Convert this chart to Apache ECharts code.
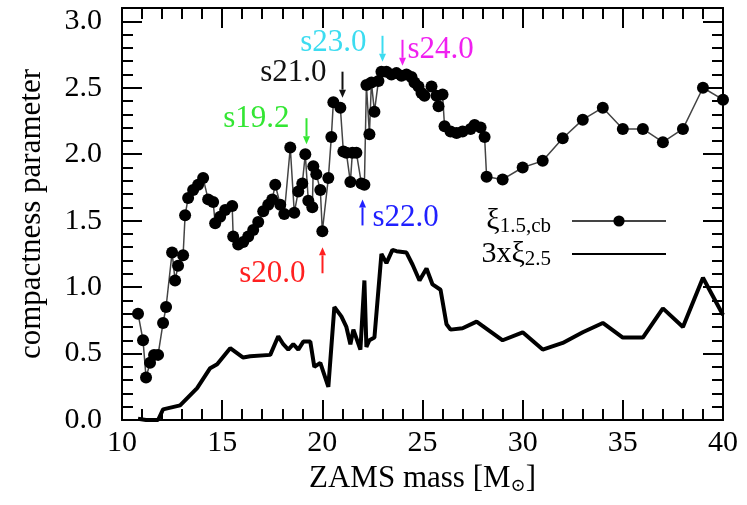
<!DOCTYPE html>
<html>
<head>
<meta charset="utf-8">
<title>compactness parameter</title>
<script src="https://cdn.jsdelivr.net/npm/echarts@6/dist/echarts.min.js"></script>
<style>
  html, body { margin: 0; padding: 0; background: #fff; }
  #chart { width: 747px; height: 505px; }
</style>
</head>
<body>
<div id="chart"></div>
<script>
// xi_1.5,cb : ZAMS mass / value
const xi15Mass = [10.8, 11.05, 11.2, 11.4, 11.6, 11.8, 12.05, 12.2, 12.5, 12.65, 12.8, 13.05, 13.15, 13.3, 13.55, 13.8,
  14.05, 14.3, 14.55, 14.65, 14.9, 15.15, 15.5, 15.55, 15.8, 16.05, 16.3, 16.55, 16.8, 17.05, 17.3, 17.5, 17.65,
  17.9, 18.1, 18.4, 18.6, 18.8, 19.0, 19.15, 19.3, 19.5, 19.55, 19.7, 19.9, 20.0, 20.3, 20.45, 20.55, 20.9, 21.05,
  21.2, 21.4, 21.5, 21.7, 21.95, 22.1, 22.2, 22.35, 22.45, 22.6, 22.8, 22.95, 23.2, 23.45, 23.7, 23.95, 24.2, 24.45,
  24.6, 24.8, 24.95, 25.1, 25.45, 25.7, 25.8, 26.0, 26.1, 26.4, 26.7, 27.0, 27.4, 27.6, 27.9, 28.1, 28.2,
  29, 30, 31, 32, 33, 34, 35, 36, 37, 38, 39, 40];
const xi15Value = [0.80, 0.60, 0.32, 0.43, 0.49, 0.49, 0.73, 0.85, 1.26, 1.05, 1.16, 1.24, 1.54, 1.67, 1.73, 1.77,
  1.82, 1.66, 1.64, 1.48, 1.53, 1.58, 1.61, 1.38, 1.32, 1.34, 1.38, 1.43, 1.49, 1.57, 1.62, 1.66, 1.77,
  1.62, 1.55, 2.05, 1.56, 1.72, 1.78, 2.00, 1.65, 1.60, 1.91, 1.85, 1.73, 1.42, 1.82, 2.13, 2.39, 2.35, 2.02,
  2.01, 1.79, 2.01, 2.01, 1.78, 1.77, 2.52, 2.15, 2.54, 2.32, 2.55, 2.62, 2.62, 2.60, 2.61, 2.59, 2.60, 2.58,
  2.54, 2.51, 2.46, 2.44, 2.51, 2.44, 2.36, 2.45, 2.21, 2.17, 2.16, 2.17, 2.19, 2.22, 2.20, 2.13, 1.83,
  1.81, 1.90, 1.95, 2.12, 2.26, 2.35, 2.19, 2.19, 2.09, 2.19, 2.50, 2.41];

// 3 x xi_2.5 : ZAMS mass / value
const xi25Mass = [10.8, 11.2, 11.8, 12.05, 12.9, 13.75, 14.4, 14.75, 15.4, 16.05, 16.4, 17.4, 17.8, 18.05, 18.3,
  18.55, 18.8, 19.05, 19.4, 19.6, 19.9, 20.3, 20.6, 20.95, 21.2, 21.4, 21.55, 21.9, 22.1, 22.2, 22.35, 22.6,
  22.95, 23.2, 23.5, 23.7, 24.2, 24.5, 24.85, 25.2, 25.5, 25.9, 26.2, 26.4, 27.0, 27.7, 29, 30, 31, 32, 33,
  34, 35, 36, 37, 38, 39, 40];
const xi25Value = [0.01, 0.0, 0.0, 0.08, 0.11, 0.24, 0.39, 0.42, 0.54, 0.47, 0.48, 0.49, 0.63, 0.57, 0.53,
  0.57, 0.53, 0.59, 0.59, 0.40, 0.43, 0.25, 0.85, 0.78, 0.70, 0.57, 0.68, 0.53, 1.05, 0.55, 0.60, 0.62,
  1.25, 1.18, 1.28, 1.27, 1.26, 1.17, 1.05, 1.14, 1.02, 0.98, 0.72, 0.68, 0.69, 0.74, 0.60, 0.66, 0.53, 0.58, 0.66,
  0.73, 0.62, 0.62, 0.84, 0.70, 1.07, 0.79];

// axis ranges / tick labels
const xTickLabels = ['10', '15', '20', '25', '30', '35', '40'];
const yTickLabels = ['0.0', '0.5', '1.0', '1.5', '2.0', '2.5', '3.0'];

// model annotations
const annoNames = ['s19.2', 's20.0', 's21.0', 's22.0', 's23.0', 's24.0'];
const annoMass = [19.2, 20.0, 21.0, 22.0, 23.0, 24.0];
const annoValue = [2.00, 1.42, 2.35, 1.78, 2.62, 2.59];
const annoDir = ['down', 'up', 'down', 'up', 'down', 'down'];
const annoColors = ['#33e633', '#ff2020', '#111111', '#2020ff', '#3cdcf0', '#f020f0'];

const FONT = '"Liberation Serif", "DejaVu Serif", serif';
const BLACK = '#000';

function yLabel(v) {
  const r = Math.round(v * 10);
  return r % 5 === 0 ? yTickLabels[r / 5] : '';
}

function xLabel(v) {
  const i = xTickLabels.indexOf(String(Math.round(v)));
  return i >= 0 ? xTickLabels[i] : '';
}

const tickLine = { color: BLACK, width: 2 };

function xAx(pos, withLabels) {
  return {
    type: 'value', min: 10, max: 40, interval: 5, position: pos,
    axisLine: { show: true, onZero: false, lineStyle: tickLine },
    axisTick: { show: true, inside: true, length: 20, lineStyle: tickLine },
    minorTick: { show: true, splitNumber: 5, length: 11, lineStyle: tickLine },
    axisLabel: { show: withLabels, formatter: xLabel, margin: 8, fontFamily: FONT, fontSize: 30, color: BLACK },
    splitLine: { show: false }
  };
}

function yAx(pos, step, len, withLabels) {
  return {
    type: 'value', min: 0, max: 3.1, interval: step, position: pos,
    axisLine: { show: true, onZero: false, lineStyle: tickLine },
    axisTick: { show: true, inside: true, length: len, lineStyle: tickLine },
    axisLabel: { show: withLabels, formatter: yLabel, margin: 20, fontFamily: FONT, fontSize: 30, color: BLACK },
    splitLine: { show: false }
  };
}

const xMain = xAx('bottom', true);
xMain.name = '{a|ZAMS mass [M}{b|⊙}{a|]}';
xMain.nameLocation = 'middle';
xMain.nameGap = 36;
xMain.nameTextStyle = {
  rich: {
    a: { fontFamily: FONT, fontSize: 31, color: BLACK, lineHeight: 31, verticalAlign: 'top' },
    b: { fontFamily: FONT, fontSize: 18, color: BLACK, lineHeight: 18, padding: [14, 0, 0, 0], verticalAlign: 'top' }
  }
};

const yMain = yAx('left', 0.1, 11, true);
yMain.name = 'compactness parameter';
yMain.nameLocation = 'middle';
yMain.nameGap = 75;
yMain.nameTextStyle = { fontFamily: FONT, fontSize: 31, color: BLACK };

const option = {
  animation: false,
  backgroundColor: '#fff',
  grid: { left: 122, right: 24, top: 8, bottom: 85 },
  xAxis: [xMain, xAx('top', false)],
  yAxis: [yMain, yAx('left', 0.5, 20, false), yAx('right', 0.1, 11, false), yAx('right', 0.5, 20, false)],
  legend: {
    orient: 'vertical', right: 80, top: 206, align: 'right', padding: 0, itemGap: 2,
    itemWidth: 94, itemHeight: 14, selectedMode: false,
    data: [{ name: 'xi15' }, { name: 'xi25', itemStyle: { opacity: 0 } }],
    formatter: name => (name === 'xi15' ? '{m|ξ}{s|1.5,cb}' : '{m|3xξ}{s|2.5}'),
    textStyle: {
      padding: [0, 16, 0, 0],
      rich: {
        m: { fontFamily: FONT, fontSize: 30, lineHeight: 30, verticalAlign: 'top', color: BLACK },
        s: { fontFamily: FONT, fontSize: 21, lineHeight: 21, padding: [10, 0, 0, 0], verticalAlign: 'top', color: BLACK }
      }
    }
  },
  series: [
    {
      name: 'xi15', type: 'line', xAxisIndex: 0, yAxisIndex: 0,
      data: xi15Mass.map((m, i) => [m, xi15Value[i]]),
      symbol: 'circle', symbolSize: 12,
      itemStyle: { color: BLACK },
      lineStyle: { color: '#444', width: 1.5 },
      z: 3
    },
    {
      name: 'xi25', type: 'line', xAxisIndex: 0, yAxisIndex: 0,
      data: xi25Mass.map((m, i) => [m, xi25Value[i]]),
      symbol: 'none',
      itemStyle: { color: BLACK },
      lineStyle: { color: BLACK, width: 4 },
      z: 2
    }
  ]
};

const chart = echarts.init(document.getElementById('chart'));
chart.setOption(option);

// label offsets from the arrow tail, in px
const annoDx = [-17, -17, -16, 10, -16, 5];
const annoDy = [1, 1, 1, -8, 7, 10];

const graphics = [];
annoNames.forEach((name, i) => {
  const p = chart.convertToPixel({ xAxisIndex: 0, yAxisIndex: 0 }, [annoMass[i], annoValue[i]]);
  const x = Math.round(p[0]) + 0.5;
  const col = annoColors[i];
  const down = annoDir[i] === 'down';
  const tip = down ? p[1] - 10 : p[1] + 16;
  const tail = down ? tip - 26 : tip + 26;
  const head = down ? tip - 8 : tip + 8;
  graphics.push({
    type: 'line', shape: { x1: x, y1: tail, x2: x, y2: head },
    style: { stroke: col, lineWidth: 2 }, z: 10
  });
  graphics.push({
    type: 'polygon', shape: { points: [[x - 3.5, head], [x + 3.5, head], [x, tip]] },
    style: { fill: col }, z: 10
  });
  const right = annoDx[i] > 0;
  graphics.push({
    type: 'text', x: x + annoDx[i], y: tail + annoDy[i], z: 10,
    style: {
      text: name, fill: col, font: '31px ' + FONT,
      align: right ? 'left' : 'right', verticalAlign: 'middle'
    }
  });
});
chart.setOption({ graphic: graphics });
</script>
</body>
</html>
